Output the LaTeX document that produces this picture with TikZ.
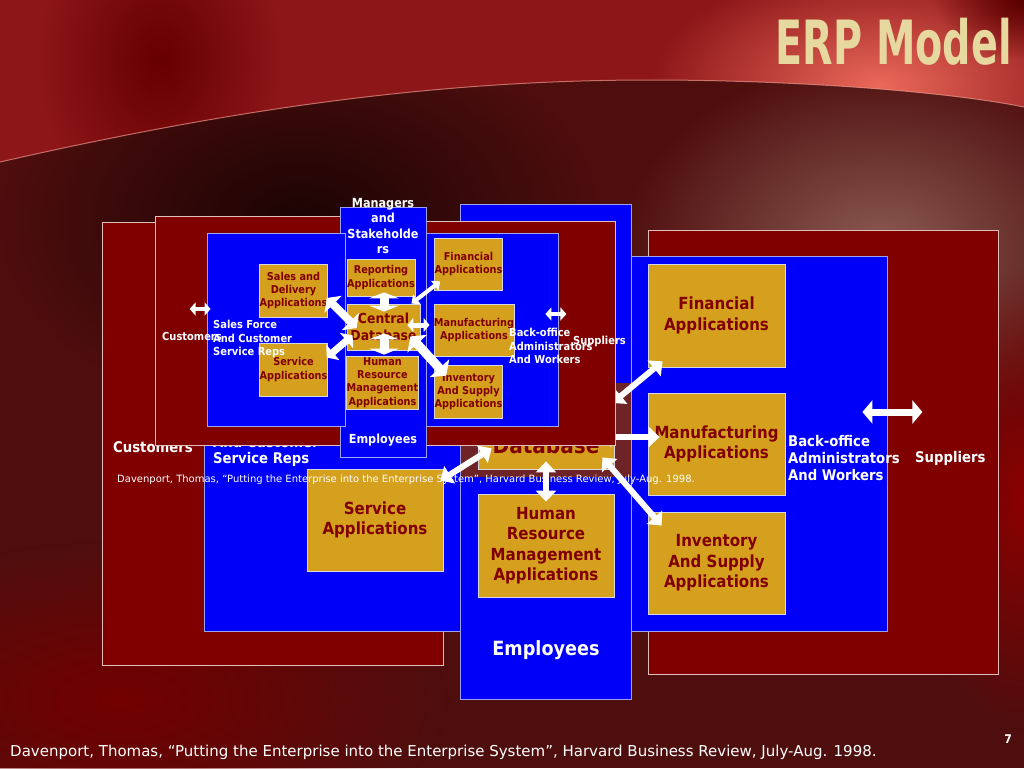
\documentclass[tikz,border=0pt]{standalone}
\usepackage{fontspec}
\usetikzlibrary{arrows.meta,fadings}
\newfontfamily\boxfont[FakeStretch=0.9]{DejaVu Sans}
\newfontfamily\citefont{DejaVu Sans}
\newfontfamily\titlefont[FakeStretch=0.65]{DejaVu Sans}
\definecolor{zonered}{RGB}{128,0,0}
\definecolor{zoneline}{RGB}{225,190,190}
\definecolor{laneblue}{RGB}{0,0,250}
\definecolor{laneline}{RGB}{160,160,240}
\definecolor{appgold}{RGB}{212,160,30}
\definecolor{appline}{RGB}{215,215,225}
\definecolor{apptext}{RGB}{128,0,0}
\definecolor{dbring}{RGB}{110,36,38}
\definecolor{titletext}{RGB}{230,216,158}
\definecolor{slidebase}{RGB}{78,14,14}
\definecolor{slidetop}{RGB}{140,22,24}
\definecolor{glow}{RGB}{235,105,90}
\definecolor{dusk}{RGB}{28,4,4}
\definecolor{haze}{RGB}{140,92,82}
\definecolor{rim}{RGB}{235,150,140}
\tikzfading[name=softspot, inner color=transparent!0, outer color=transparent!100]
\tikzset{
  zone/.style={draw=zoneline, fill=zonered, line width=0.8pt, inner sep=0pt},
  lane/.style={draw=laneline, fill=laneblue, line width=0.8pt, inner sep=0pt},
  appbox/.style={draw=appline, fill=appgold, text=apptext, align=center, inner sep=0pt, line width=0.8pt},
  who/.style={text=white, align=left, inner sep=0pt},
  bigapp/.style={font=\boxfont\bfseries\fontsize{16.7}{20.5}\selectfont},
  smallapp/.style={font=\boxfont\bfseries\fontsize{10.8}{13.3}\selectfont},
  bigwho/.style={font=\boxfont\bfseries\fontsize{14.7}{16.7}\selectfont},
  smallwho/.style={font=\boxfont\bfseries\fontsize{11}{13.7}\selectfont},
  flow/.style n args={3}{white, line width=#1, arrows={Triangle[width=#2,length=#3]-Triangle[width=#2,length=#3]}}
}
\begin{document}
\begin{tikzpicture}[x=1pt,y=-1pt]
    \useasboundingbox (0,0) rectangle (1024,768);
    \fill[slidebase] (0,0) rectangle (1024,768);
    \fill[dusk, path fading=softspot] (300,220) ellipse [x radius=300, y radius=200];
    \fill[haze, path fading=softspot] (880,250) ellipse [x radius=260, y radius=190];
    \fill[red!45!black, path fading=softspot] (120,700) ellipse [x radius=330, y radius=160];
    \fill[red!55!black, path fading=softspot] (1024,500) ellipse [x radius=120, y radius=230];
    \begin{scope}
      \clip (0,0) -- (1024,0) -- (1024,107) .. controls (950,92) and (800,80) .. (650,80) .. controls (450,80) and (250,105) .. (0,162) -- cycle;
      \fill[slidetop] (0,0) rectangle (1024,170);
      \fill[red!40!black, path fading=softspot] (160,60) ellipse [x radius=120, y radius=160];
      \fill[glow, path fading=softspot] (880,85) ellipse [x radius=230, y radius=120];
      \fill[red!35!black, path fading=softspot] (1024,0) ellipse [x radius=90, y radius=60];
    \end{scope}
    \draw[rim, line width=1pt, opacity=0.7] (1024,107) .. controls (950,92) and (800,80) .. (650,80) .. controls (450,80) and (250,105) .. (0,162);

    \node at (272.5, 443.5) [zone, minimum width=341pt, minimum height=443pt] (bcust) {};
    \node at (823, 452) [zone, minimum width=350pt, minimum height=444pt] (bsupp) {};
    \node at (337, 443) [lane, minimum width=266pt, minimum height=376pt] (bsales) {};
    \node at (545.5, 451.5) [lane, minimum width=171pt, minimum height=495pt] (bemp) {};
    \node at (759, 443.5) [lane, minimum width=256pt, minimum height=375pt] (bback) {};
    \node at (546, 430) [fill=dbring, inner sep=0pt, minimum width=170pt, minimum height=94pt] (bring) {};
    \node at (546, 432) [appbox, minimum width=136pt, minimum height=74pt, font=\boxfont\bfseries\fontsize{22.3}{27}\selectfont] (bdb) {Central\\Database};
    \node at (716.5, 315.5) [appbox, bigapp, minimum width=137pt, minimum height=103pt] (bfin) {Financial\\Applications};
    \node at (716.5, 444) [appbox, bigapp, minimum width=137pt, minimum height=102pt] (bmfg) {Manufacturing\\Applications};
    \node at (716.5, 563) [appbox, bigapp, minimum width=137pt, minimum height=102pt] (binv) {Inventory\\And Supply\\Applications};
    \node at (375, 520) [appbox, bigapp, minimum width=136pt, minimum height=102pt] (bserv) {Service\\Applications};
    \node at (546, 545.5) [appbox, bigapp, minimum width=136pt, minimum height=103pt] (bhr) {Human\\Resource\\Management\\Applications};
    \node at (113, 447) [who, bigwho, anchor=west] (bcustl) {Customers};
    \node at (213, 443) [who, bigwho, anchor=west] (bsalesl) {Sales Force\\And Customer\\Service Reps};
    \node at (788, 458) [who, bigwho, anchor=west] (bbackl) {Back-office\\Administrators\\And Workers};
    \node at (915, 458) [who, bigwho, anchor=west] (bsuppl) {Suppliers};
    \node at (546, 650) [who, font=\boxfont\bfseries\fontsize{19.6}{23}\selectfont] (bempl) {Employees};
    \node at (117, 480) [who, anchor=west, font=\citefont\fontsize{10}{12}\selectfont] (bcite) {Davenport, Thomas, “Putting the Enterprise into the Enterprise System”, Harvard Business Review, July-Aug. 1998.};

    \draw[flow={6pt}{20pt}{11pt}] ([xshift=-2pt,yshift=29pt]bdb.east) -- ([xshift=15pt,yshift=6pt]bfin.south west);
    \draw[flow={6pt}{20pt}{11pt}] ([xshift=-14pt,yshift=-5pt]bdb.east) -- ([xshift=12pt,yshift=7pt]bmfg.west);
    \draw[flow={6pt}{20pt}{11pt}] ([xshift=-12pt,yshift=12pt]bdb.south east) -- ([xshift=14pt,yshift=-14pt]binv.north west);
    \draw[flow={6pt}{20pt}{11pt}] ([yshift=8pt]bdb.south) -- ([yshift=-8pt]bhr.north);
    \draw[flow={6pt}{20pt}{11pt}] ([xshift=-3pt,yshift=-12pt]bserv.north east) -- ([xshift=14pt,yshift=21pt]bdb.south west);
    \draw[flow={7pt}{23pt}{10pt}] ([xshift=-25pt,yshift=31.5pt]bback.east) -- ([xshift=35pt,yshift=31.5pt]bback.east);

    \node at (250, 330.5) [zone, minimum width=190pt, minimum height=229pt] (scust) {};
    \node at (517.5, 333) [zone, minimum width=195pt, minimum height=224pt] (ssupp) {};
    \node at (383, 332) [lane, minimum width=86pt, minimum height=250pt] (semp) {};
    \node at (276, 329.5) [lane, minimum width=138pt, minimum height=193pt] (ssales) {};
    \node at (492, 329.5) [lane, minimum width=132pt, minimum height=193pt] (sback) {};
    \node at (293.5, 290.5) [appbox, smallapp, minimum width=67pt, minimum height=53pt] (ssd) {Sales and\\Delivery\\Applications};
    \node at (293.5, 369.5) [appbox, smallapp, minimum width=67pt, minimum height=53pt] (sserv) {Service\\Applications};
    \node at (381, 277.5) [appbox, smallapp, minimum width=68pt, minimum height=37pt] (srep) {Reporting\\Applications};
    \node at (383.5, 327) [appbox, minimum width=73pt, minimum height=46pt, font=\boxfont\bfseries\fontsize{13.8}{17}\selectfont] (sdb) {Central\\Database};
    \node at (382.5, 382.5) [appbox, smallapp, minimum width=71pt, minimum height=53pt] (shr) {Human\\Resource\\Management\\Applications};
    \node at (468.5, 264) [appbox, smallapp, minimum width=67pt, minimum height=52pt] (sfin) {Financial\\Applications};
    \node at (474, 330) [appbox, smallapp, minimum width=78pt, minimum height=52pt] (smfg) {Manufacturing\\Applications};
    \node at (468.5, 391.5) [appbox, smallapp, minimum width=67pt, minimum height=53pt] (sinv) {Inventory\\And Supply\\Applications};
    \node at (162, 336) [who, smallwho, anchor=west] (scustl) {Customers};
    \node at (213, 339) [who, smallwho, anchor=west] (ssalesl) {Sales Force\\And Customer\\Service Reps};
    \node at (509, 346) [who, smallwho, anchor=west] (sbackl) {Back-office\\Administrators\\And Workers};
    \node at (573, 341) [who, smallwho, anchor=west] (ssuppl) {Suppliers};
    \node at (383, 226) [who, align=center, font=\boxfont\bfseries\fontsize{12.5}{15.3}\selectfont] (smgrl) {Managers\\and\\Stakeholde\\rs};
    \node at (383, 440) [who, font=\boxfont\bfseries\fontsize{12.5}{15.3}\selectfont] (sempl) {Employees};

    \draw[flow={8pt}{24pt}{9pt}] ([xshift=-1pt,yshift=-7.5pt]ssd.east) -- ([xshift=10pt,yshift=-1pt]sdb.west);
    \draw[flow={7pt}{20pt}{8pt}] ([xshift=-1pt,yshift=-15pt]sserv.north east) -- ([xshift=6pt,yshift=15pt]sdb.south west);
    \draw[flow={9pt}{30pt}{6pt}] ([xshift=3pt,yshift=4pt]srep.south) -- ([xshift=0.5pt,yshift=-8pt]sdb.north);
    \draw[flow={9pt}{30pt}{6pt}] ([xshift=0.5pt,yshift=17pt]sdb.south) -- ([xshift=1.5pt,yshift=1pt]shr.north);
    \draw[flow={5pt}{14pt}{6pt}] ([xshift=-13pt,yshift=2pt]sdb.east) -- ([xshift=-4pt,yshift=5pt]smfg.west);
    \draw[flow={4pt}{12pt}{7pt}] ([xshift=-9pt]sdb.north east) -- ([xshift=6pt,yshift=9pt]sfin.south west);
    \draw[flow={9pt}{26pt}{10pt}] ([xshift=-10pt,yshift=14pt]sdb.south east) -- ([xshift=12pt,yshift=-11pt]sinv.north west);
    \draw[flow={3.5pt}{13pt}{6pt}] ([xshift=-17pt,yshift=20.5pt]ssales.west) -- ([xshift=4pt,yshift=20.5pt]ssales.west);
    \draw[flow={3.5pt}{13pt}{6pt}] ([xshift=-13pt,yshift=15.5pt]sback.east) -- ([xshift=8pt,yshift=15.5pt]sback.east);

    \node at (1012, 42) [anchor=east, inner sep=0pt, text=titletext, font=\titlefont\bfseries\fontsize{61}{61}\selectfont] (title) {ERP Model};
    \node at (10, 752) [anchor=west, inner sep=0pt, text=white, font=\citefont\fontsize{15}{18}\selectfont] (cite) {Davenport, Thomas, “Putting the Enterprise into the Enterprise System”, Harvard Business Review, July-Aug. 1998.};
    \node at (1008, 739) [inner sep=0pt, text=white, font=\boxfont\bfseries\fontsize{12}{14}\selectfont] (pagenum) {7};
\end{tikzpicture}
\end{document}
